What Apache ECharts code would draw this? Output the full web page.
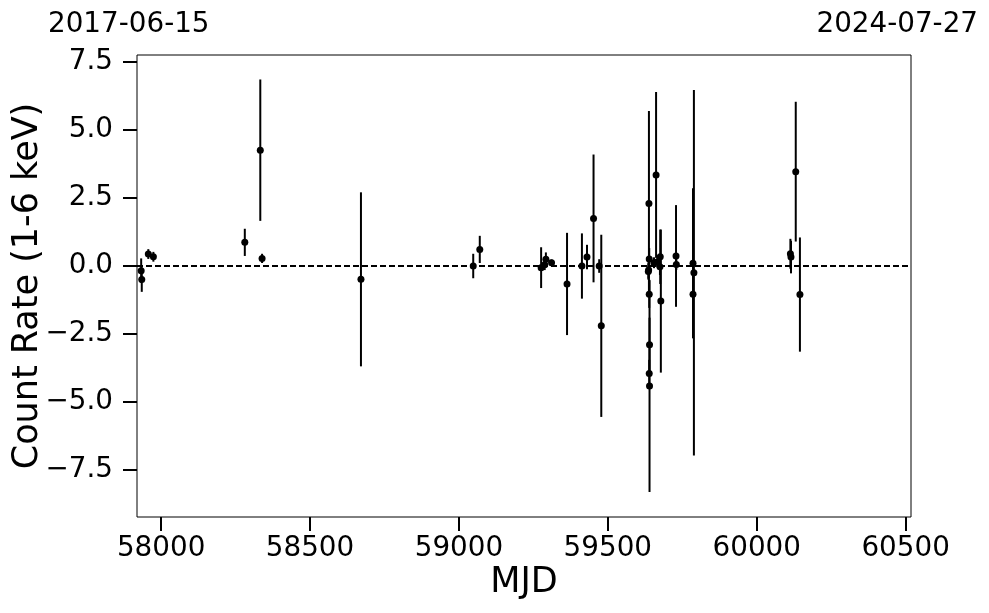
<!DOCTYPE html>
<html><head><meta charset="utf-8">
<script src="https://cdn.jsdelivr.net/npm/echarts@6/dist/echarts.min.js"></script>
<style>html,body{margin:0;padding:0;background:#fff}#c{width:989px;height:613px}</style>
</head><body><div id="c"></div>
<script>
const mjd  = [57933,57935,57957,57974,58281,58333,58339,58671,59048,59070,59276,59288,59292,59311,59363,59413,59430,59452,59471,59478,59638,59639,59637,59636,59639,59640,59639,59640,59655,59662,59666,59676,59675,59678,59729,59730,59786,59789,59786,60113,60115,60131,60145];
const rate = [-0.17,-0.50,0.44,0.34,0.87,4.26,0.28,-0.49,0.00,0.61,-0.06,0.05,0.25,0.12,-0.66,0.00,0.33,1.75,0.00,-2.20,2.30,0.26,-0.15,-0.20,-1.04,-2.90,-3.95,-4.41,0.12,3.35,0.15,0.34,-0.03,-1.29,0.37,0.06,0.10,-0.25,-1.04,0.45,0.33,3.47,-1.05];
const err  = [0.45,0.45,0.18,0.18,0.50,2.60,0.17,3.20,0.45,0.50,0.75,0.20,0.25,0.12,1.88,1.20,0.45,2.35,0.25,3.35,3.40,0.40,0.30,0.30,0.50,1.00,0.50,3.90,0.20,3.05,0.20,1.00,0.30,2.63,1.87,0.20,2.76,6.72,1.00,0.55,0.60,2.57,2.10];
const xTicks = [58000,58500,59000,59500,60000,60500];
const yTicks = [-7.5,-5.0,-2.5,0.0,2.5,5.0,7.5];
const xMin = 57919, xMax = 60518;
const yMin = -9.23, yMax = 7.76;
const startLabel = '2017-06-15', endLabel = '2024-07-27';

const pts = mjd.map((m,i)=>[m, rate[i], err[i]]);
const chart = echarts.init(document.getElementById('c'), null, {renderer:'canvas'});
const font = 'DejaVu Sans';
chart.setOption({
  animation:false,
  backgroundColor:'#fff',
  grid:{left:137,right:78,top:55,bottom:96,containLabel:false,outerBoundsMode:'none',show:true,borderColor:'#000',borderWidth:1,backgroundColor:'transparent'},
  xAxis:{type:'value',min:xMin,max:xMax,name:'MJD',nameLocation:'middle',nameGap:48,nameMoveOverlap:false,
    nameTextStyle:{fontFamily:font,fontSize:35,color:'#000'},
    axisLine:{show:false,onZero:false},splitLine:{show:false},
    axisTick:{show:true,customValues:xTicks,length:14,inside:false,lineStyle:{color:'#000',width:2}},
    axisLabel:{customValues:xTicks,fontFamily:font,fontSize:27.8,color:'#000',margin:18,
      formatter:v=>String(v)}},
  yAxis:{type:'value',min:yMin,max:yMax,name:'Count Rate (1-6 keV)',nameLocation:'middle',nameGap:92,nameMoveOverlap:false,
    nameTextStyle:{fontFamily:font,fontSize:35,color:'#000'},
    axisLine:{show:false,onZero:false},splitLine:{show:false},
    axisTick:{show:true,customValues:yTicks,length:14,lineStyle:{color:'#000',width:2}},
    axisLabel:{customValues:yTicks,fontFamily:font,fontSize:27.8,color:'#000',margin:24,
      formatter:v=>v.toFixed(1).replace('-','\u2212')}},
  graphic:[
    {type:'text',left:48,top:11,style:{text:startLabel,font:'27.8px "DejaVu Sans"',fill:'#000'}},
    {type:'text',right:11,top:11,style:{text:endLabel,font:'27.8px "DejaVu Sans"',fill:'#000'}}
  ],
  series:[
    {type:'custom',data:pts,z:2,
      renderItem:(params,api)=>{
        const x=api.value(0),y=api.value(1),e=api.value(2);
        const p1=api.coord([x,y-e]),p2=api.coord([x,y+e]);
        return {type:'line',shape:{x1:p1[0],y1:p1[1],x2:p2[0],y2:p2[1]},style:{stroke:'#000',lineWidth:2}};
      },
      encode:{x:0,y:1}},
    {type:'scatter',data:pts,symbol:'circle',symbolSize:7,itemStyle:{color:'#000',opacity:1},z:3,
      markLine:{silent:true,symbol:'none',label:{show:false},lineStyle:{color:'#000',type:[6,3],width:1.8,opacity:1},data:[{yAxis:0}]}}
  ]
});
</script></body></html>
